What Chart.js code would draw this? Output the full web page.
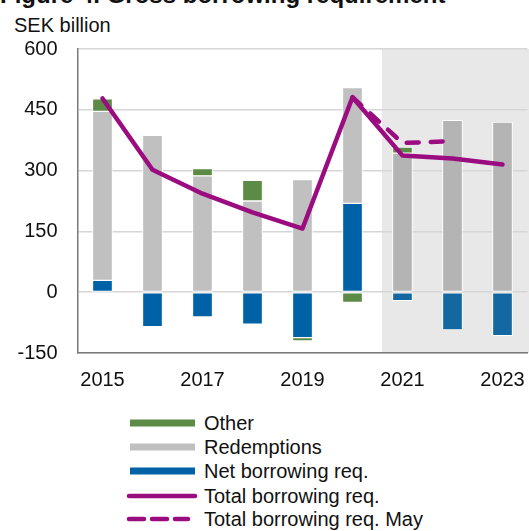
<!DOCTYPE html>
<html>
<head>
<meta charset="utf-8">
<script src="https://cdn.jsdelivr.net/npm/chart.js@4/dist/chart.umd.min.js"></script>
<style>
  body { margin: 0; background: #fff; font-family: "Liberation Sans", Arial, sans-serif; color: #111; }
  #wrap { position: relative; width: 529px; height: 531px; overflow: hidden; }
  #title { position: absolute; left: 0; top: -17px; font-size: 24px; font-weight: bold; line-height: 24px; white-space: nowrap; }
  #unit { position: absolute; left: 14px; top: 15px; font-size: 20px; line-height: 20px; }
  #chartBox { position: absolute; left: 0; top: 0; width: 529px; height: 400px; }
  .leg { position: absolute; left: 0; height: 24px; width: 529px; }
  .leg span { position: absolute; left: 204px; top: 0; font-size: 20px; line-height: 24px; white-space: nowrap; }
  .leg svg { position: absolute; left: 120px; top: 0; }
</style>
</head>
<body>
<div id="wrap">
  <div id="title">Figure 4. Gross borrowing requirement</div>
  <div id="unit">SEK billion</div>
  <div id="chartBox"><canvas id="myChart" width="529" height="400"></canvas></div>
  <div id="legend"></div>
</div>
<script>
const years = ['2015', '2016', '2017', '2018', '2019', '2020', '2021', '2022', '2023'];
const netBorrowing = [29, -85, -61, -79, -112, 219, -21, -93, -107];
const redemptions = [417, 387, 287, 225, 278, 286, 343, 424, 420];
const other = [31, null, 18, 51, -8, -25, 15, null, null];
const totalReq = [478, 302, 243, 197, 157, 481, 337, 330, 315];
const totalReqMay = [null, null, null, null, null, 481, 368, 373, null];
const yTicks = [-150, 0, 150, 300, 450, 600];

const forecastFrom = 6; // 2021 onwards is forecast
const greenCol = '#5b8b45';
const purple = '#9b0c80';

function colorsFor(hist, fc) {
    return years.map((y, i) => i >= forecastFrom ? fc : hist);
}

// grey shaded forecast area
const shadePlugin = {
    id: 'shade',
    beforeDraw(chart) {
        let ctx = chart.ctx;
        let a = chart.chartArea;
        let xs = chart.scales.x;
        let x5 = xs.getPixelForValue(5);
        let x6 = xs.getPixelForValue(6);
        let start = x5 + (x6 - x5) * 0.59;
        ctx.save();
        ctx.fillStyle = '#e8e8e8';
        ctx.fillRect(start, a.top, a.right - start + 2, a.bottom - a.top);
        ctx.restore();
    }
};

new Chart('myChart', {
    type: 'bar',
    data: {
        labels: years,
        datasets: [
            {
                type: 'line',
                label: 'Total borrowing req.',
                data: totalReq,
                borderColor: purple,
                borderWidth: 4.5,
                pointRadius: 0,
                borderJoinStyle: 'round',
                borderCapStyle: 'round',
                stack: 'total',
                order: 0
            },
            {
                type: 'line',
                label: 'Total borrowing req. May',
                data: totalReqMay,
                borderColor: purple,
                borderWidth: 4.5,
                borderDash: [12, 12],
                borderCapStyle: 'round',
                pointRadius: 0,
                stack: 'may',
                order: 1
            },
            {
                label: 'Net borrowing req.',
                data: netBorrowing,
                backgroundColor: colorsFor('#0062a6', '#1467a0'),
                borderColor: '#ffffff',
                borderWidth: 1,
                borderSkipped: false,
                stack: 's',
                order: 2
            },
            {
                label: 'Redemptions',
                data: redemptions,
                backgroundColor: colorsFor('#c0c0c0', '#b4b4b4'),
                borderColor: '#ffffff',
                borderWidth: 1,
                borderSkipped: false,
                stack: 's',
                order: 2
            },
            {
                label: 'Other',
                data: other,
                backgroundColor: greenCol,
                borderColor: '#ffffff',
                borderWidth: 1,
                borderSkipped: false,
                stack: 's',
                order: 2
            }
        ]
    },
    options: {
        responsive: false,
        animation: false,
        barThickness: 20,
        layout: { padding: { top: 49, right: 1.5, left: 0, bottom: 0 } },
        plugins: { legend: { display: false }, tooltip: { enabled: false } },
        scales: {
            x: {
                stacked: true,
                offset: true,
                grid: { display: false, drawTicks: false },
                border: { display: true, color: '#7a7a7a', width: 1.5 },
                ticks: {
                    autoSkip: false,
                    maxRotation: 0,
                    padding: 15,
                    color: '#111',
                    font: { family: 'Liberation Sans', size: 20 },
                    callback: function (v, i) { return i % 2 == 0 ? years[i] : ''; }
                },
                afterFit: function (s) {
                    s.height = 47;
                    s.paddingLeft = 0;
                    s.paddingRight = 0;
                }
            },
            y: {
                stacked: true,
                min: yTicks[0],
                max: yTicks[yTicks.length - 1],
                afterBuildTicks: function (s) { s.ticks = yTicks.map(v => ({ value: v })); },
                grid: { color: '#d6d6d6', lineWidth: 1.5, drawTicks: false },
                border: { display: true, color: '#7a7a7a', width: 1.5 },
                ticks: {
                    padding: 20,
                    color: '#111',
                    font: { family: 'Liberation Sans', size: 20 }
                },
                afterFit: function (s) { s.width = 77.5; }
            }
        }
    },
    plugins: [shadePlugin]
});

// legend, one item per row
const legendItems = [
    { text: 'Other', kind: 'bar', color: greenCol, y: 411 },
    { text: 'Redemptions', kind: 'bar', color: '#c0c0c0', y: 435 },
    { text: 'Net borrowing req.', kind: 'bar', color: '#0062a6', y: 459 },
    { text: 'Total borrowing req.', kind: 'line', color: purple, y: 484 },
    { text: 'Total borrowing req. May', kind: 'dash', color: purple, y: 507 }
];
let legHtml = '';
for (let i = 0; i < legendItems.length; i++) {
    let it = legendItems[i];
    let sym = '';
    if (it.kind == 'bar')
        sym = `<rect x="10" y="8.5" width="65" height="7" fill="${it.color}"/>`;
    else if (it.kind == 'line')
        sym = `<line x1="9" y1="12" x2="75" y2="12" stroke="${it.color}" stroke-width="4.5" stroke-linecap="round"/>`;
    else
        sym = `<line x1="9" y1="12" x2="68" y2="12" stroke="${it.color}" stroke-width="4.5" stroke-linecap="round" stroke-dasharray="15 8"/>`;
    legHtml += `<div class="leg" style="top:${it.y}px"><svg width="84" height="24">${sym}</svg><span>${it.text}</span></div>`;
}
document.getElementById('legend').innerHTML = legHtml;
</script>
</body>
</html>
